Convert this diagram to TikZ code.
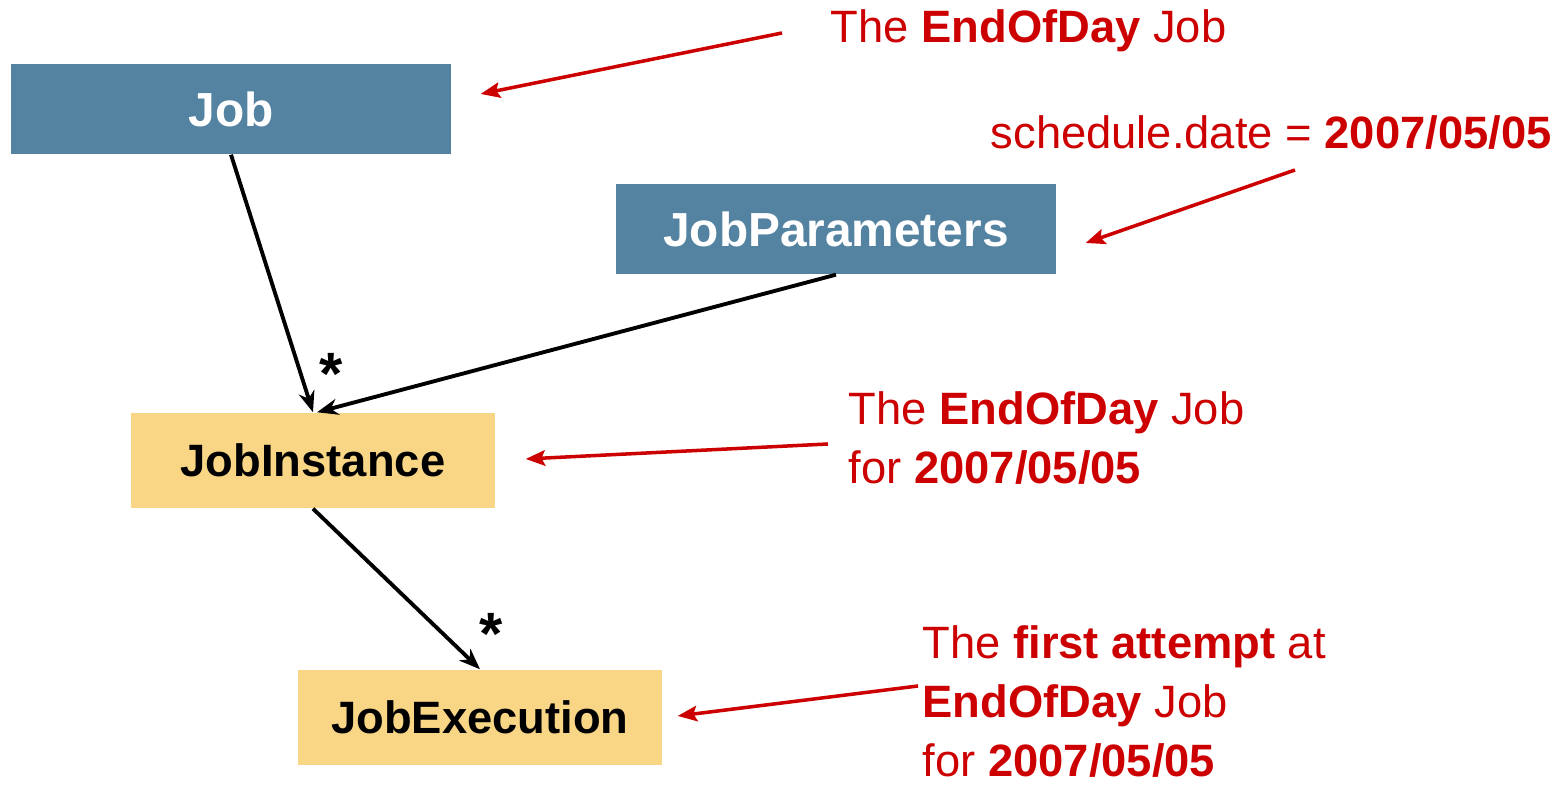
\documentclass[tikz,border=0pt]{standalone}
\usepackage{fontspec}
\setmainfont{Liberation Sans}
\usetikzlibrary{arrows.meta,calc}

\definecolor{jobblue}{HTML}{5383A1}
\definecolor{jobyellow}{HTML}{F8D686}
\definecolor{notered}{HTML}{CC0000}

\tikzset{
  bluebox/.style={fill=jobblue,text=white,font=\fontsize{13.6}{16}\selectfont\bfseries,minimum width=4.4cm,minimum height=0.9cm,inner sep=0},
  yellowbox/.style={fill=jobyellow,text=black,font=\fontsize{12.9}{16}\selectfont\bfseries,minimum width=3.64cm,minimum height=0.95cm,inner sep=0},
  note/.style={text=notered,font=\fontsize{12.9}{16.8}\selectfont,inner sep=0,anchor=base west,align=left},
  link/.style={black,line width=1.1pt,-{Stealth[length=6pt,width=4.6pt]}},
  notelink/.style={notered,line width=1pt,-{Stealth[length=5.5pt,width=4.4pt,inset=1pt]}}
}

\begin{document}
\begin{tikzpicture}
\useasboundingbox (0,0) rectangle (15.66,7.86);

% draw the boxes
\node[bluebox] (job) at (2.31,6.77) {Job};
\node[bluebox] (params) at (8.36,5.57) {JobParameters};
\node[yellowbox] (inst) at (3.13,3.255) {JobInstance};
\node[yellowbox] (exec) at (4.80,0.685) {JobExecution};

% draw links between boxes
\draw[link] (job.south) -- (inst.north);
\draw[link] (params.south) -- ($(inst.north)+(0.04,0)$);
\draw[link] (inst.south) -- (exec.north);
\node[font=\fontsize{17}{17}\selectfont\bfseries] (star1) at (3.31,4.12) {*};
\node[font=\fontsize{17}{17}\selectfont\bfseries] (star2) at (4.91,1.52) {*};

% draw notes
\node[note] (note1) at (8.30,7.43) {The \textbf{EndOfDay} Job};
\node[note] (note2) at (9.90,6.37) {schedule.date = \textbf{2007/05/05}};
\node[note] (note3) at (8.48,3.02) {The \textbf{EndOfDay} Job\\for \textbf{2007/05/05}};
\node[note] (note4) at (9.22,0.09) {The \textbf{first attempt} at\\\textbf{EndOfDay} Job\\for \textbf{2007/05/05}};

% draw note arrows
\coordinate (tail1) at (7.82,7.53);
\coordinate (tail2) at (12.95,6.16);
\coordinate (tail3) at (8.28,3.42);
\coordinate (tail4) at (9.18,1.00);
\draw[notelink] (tail1) -- ($(job.east)+(0.29,0.15)$);
\draw[notelink] (tail2) -- ($(params.east)+(0.29,-0.14)$);
\draw[notelink] (tail3) -- ($(inst.east)+(0.30,0.015)$);
\draw[notelink] (tail4) -- ($(exec.east)+(0.15,0.015)$);

\end{tikzpicture}
\end{document}
